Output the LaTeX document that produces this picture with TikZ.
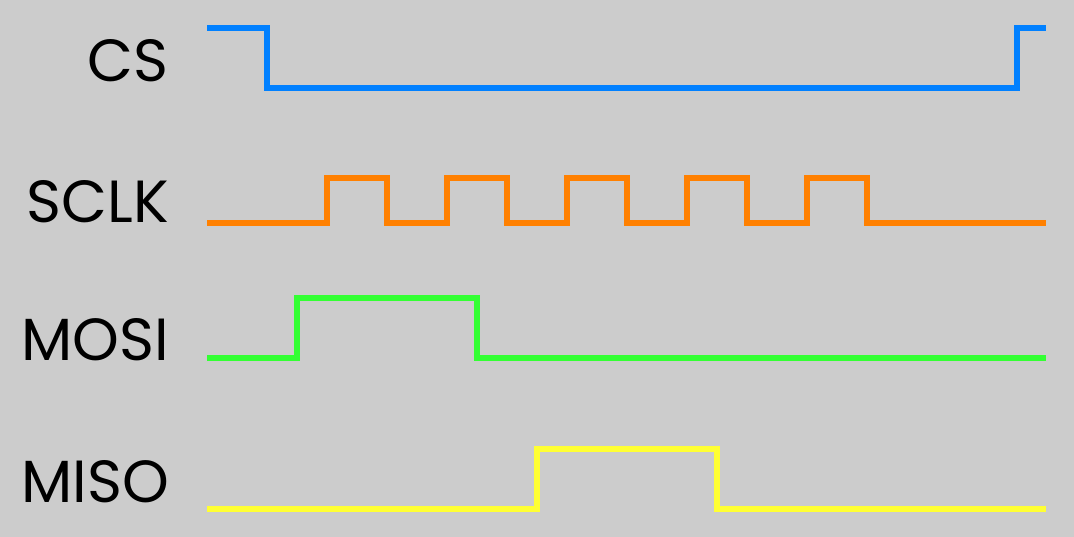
\documentclass[tikz,border=0pt]{standalone}
\usepackage{fontspec}
\setmainfont{Poppins}
\usetikzlibrary{positioning}

\definecolor{bgGray}{HTML}{CCCCCC}
\definecolor{csBlue}{HTML}{0080FF}
\definecolor{clkOrange}{HTML}{FF8000}
\definecolor{mosiGreen}{HTML}{33FF33}
\definecolor{misoYellow}{HTML}{FFFF33}

\tikzset{
  sig/.style={line width=6pt, line join=miter},
  siglabel/.style={anchor=base east, inner sep=0pt, font=\fontsize{59.5}{59.5}\selectfont}
}

\begin{document}
\begin{tikzpicture}[x=1pt, y=-1pt]
    \path [fill=bgGray] (0,0) rectangle (1074,537);
    \useasboundingbox (0,0) rectangle (1074,537);

    \node [siglabel] (cs) at (169,82) {CS};
    \node [siglabel] (sclk) at (169,223) {SCLK};
    \node [siglabel] (mosi) at (169,361) {MOSI};
    \node [siglabel] (miso) at (169,502) {MISO};

    % chip select
    \draw [sig, csBlue] (207,28.5) -| (266.5,88) -| (1016.5,28.5) -- (1046,28.5);

    % clock
    \draw [sig, clkOrange] (207,223) -- (326.5,223)
      \foreach \t in {326.5,446.5,566.5,686.5,806.5} { |- (\t+60,178.3) |- (\t+120,223) }
      -- (1046,223);

    % data lines
    \draw [sig, mosiGreen] (207,358) -| (296.5,298.5) -| (476.5,358) -- (1046,358);
    \draw [sig, misoYellow] (207,508.5) -| (536.5,448.5) -| (716.5,508.5) -- (1046,508.5);
\end{tikzpicture}
\end{document}
